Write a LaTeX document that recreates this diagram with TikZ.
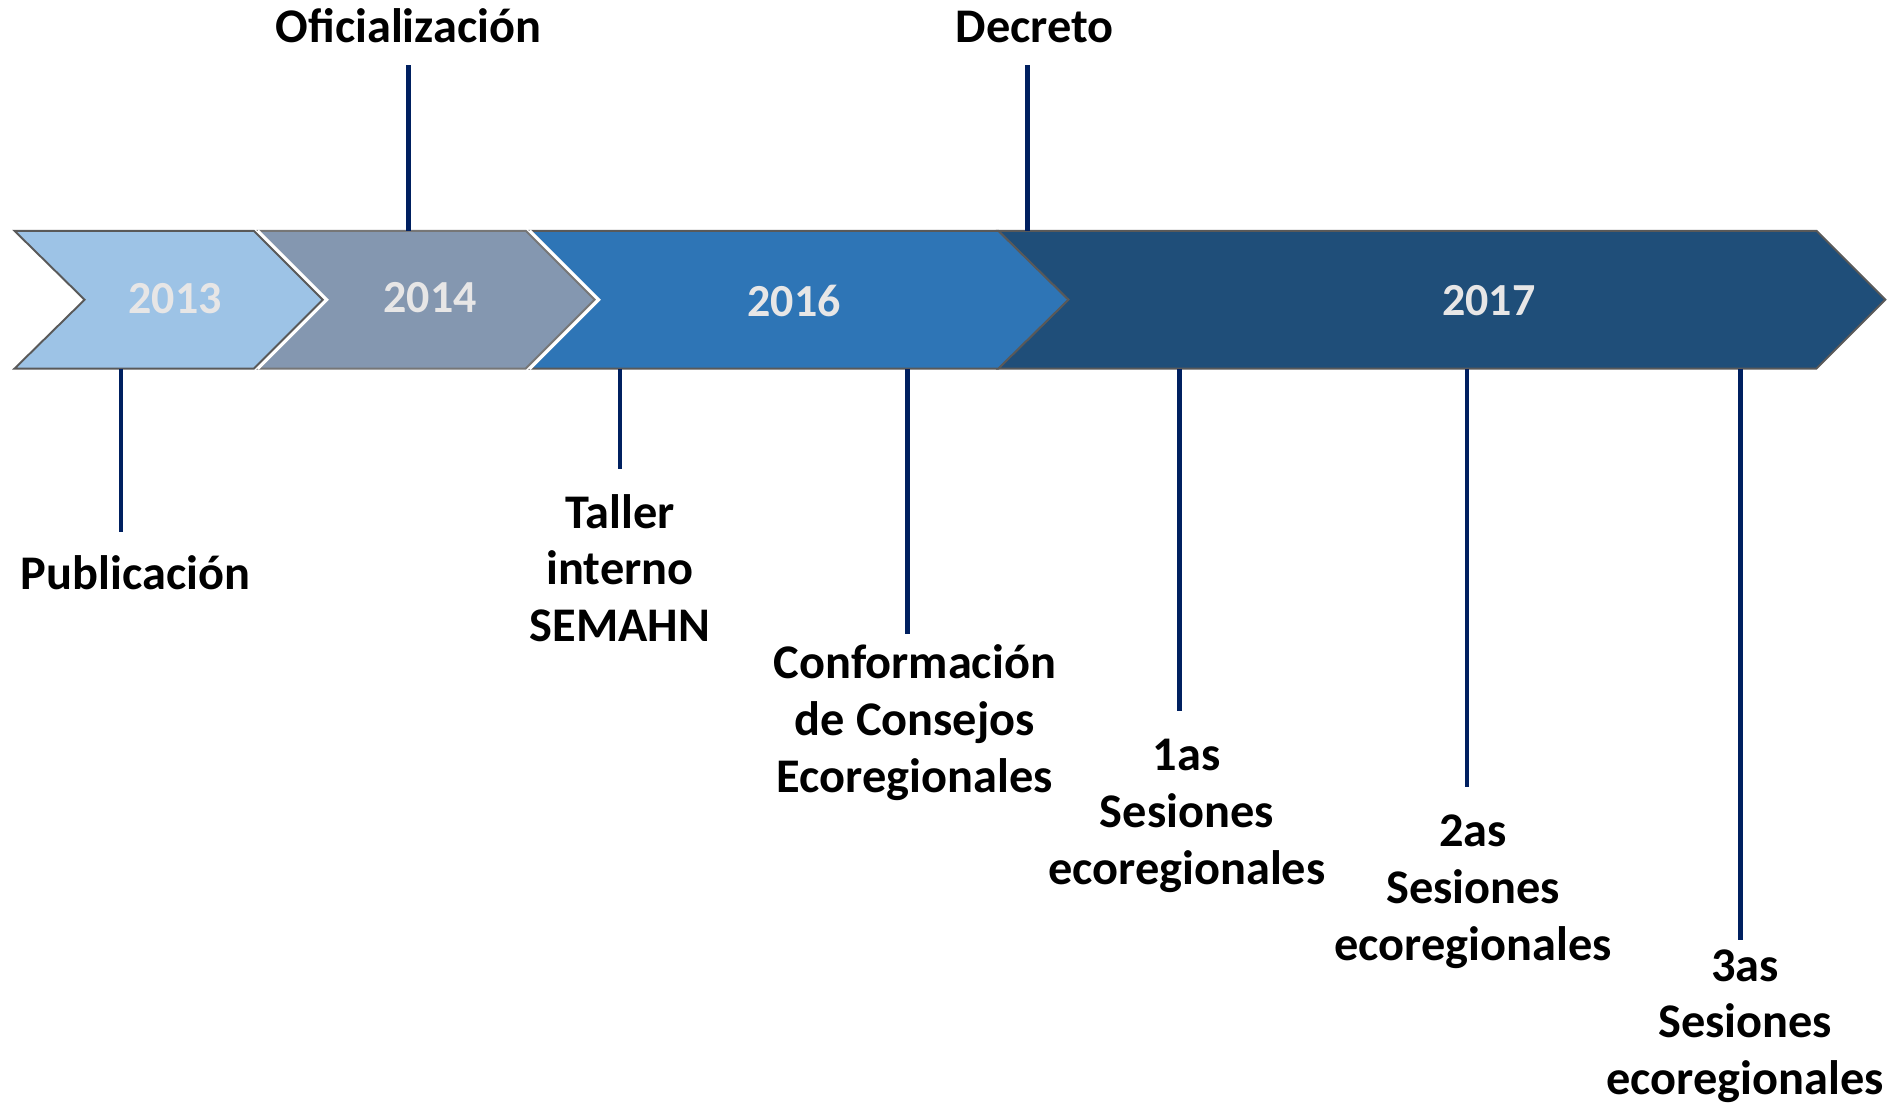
\documentclass[tikz,border=0pt]{standalone}
\usepackage{fontspec}
\setmainfont{Carlito}
\begin{document}
\begin{tikzpicture}[x=1pt,y=-1pt,
  chevbox/.style={line width=1.6pt, line join=miter},
  yearlbl/.style={font=\fontsize{38}{46}\selectfont\bfseries, text=yeartext, inner sep=0pt},
  evlbl/.style={font=\fontsize{40}{47}\selectfont\bfseries, text=black, align=center, inner sep=0pt},
  tick/.style={draw=navy, line width=3.8pt}]
\definecolor{c13}{HTML}{9DC3E6}
\definecolor{c14}{HTML}{8497B0}
\definecolor{c16}{HTML}{2E75B6}
\definecolor{c17}{HTML}{1F4E79}
\definecolor{edge}{HTML}{595959}
\definecolor{edgeb}{HTML}{767676}
\definecolor{yeartext}{HTML}{E7E6E6}
\definecolor{navy}{HTML}{002060}
\useasboundingbox (0,0) rectangle (1568,913);
\fill[white] (0,0) rectangle (1568,913);
% chevrons (band top 191, bottom 305, middle 248)
\draw[chevbox, fill=c17, draw=edge] (826,191) -- (1503,191) -- (1560,248) -- (1503,305) -- (826,305) -- (884,248) -- cycle;
\draw[chevbox, fill=c16, draw=edge] (439,191) -- (826,191) -- (884,248) -- (826,305) -- (439,305) -- (495,248) -- cycle;
\draw[line width=3pt, white] (438,191) -- (495,248) -- (438,305);
\draw[chevbox, fill=c14, draw=edgeb] (214,191) -- (435,191) -- (492,248) -- (435,305) -- (214,305) -- (270,248) -- cycle;
\draw[line width=3pt, white] (213,191) -- (270,248) -- (213,305);
\draw[chevbox, fill=c13, draw=edge] (12,191) -- (210,191) -- (267,248) -- (210,305) -- (12,305) -- (70,248) -- cycle;
% year labels
\node[yearlbl] (y13) at (145,247) {2013};
\node[yearlbl] (y14) at (356,246) {2014};
\node[yearlbl] (y16) at (657,249) {2016};
\node[yearlbl] (y17) at (1232,249) {2017};
% event labels
\node[evlbl, anchor=base] (ofi) at (338,35) {Oficializaci\'on};
\node[evlbl, anchor=base] (dec) at (856,35) {Decreto};
\node[evlbl, anchor=base] (pub) at (112,488) {Publicaci\'on};
\node[evlbl] (tal) at (513,470) {Taller\\interno\\SEMAHN};
\node[evlbl] (con) at (757,598) {Conformaci\'on\\de Consejos\\Ecoregionales};
\node[evlbl] (s1) at (982,675) {1as\\Sesiones\\ecoregionales};
\node[evlbl] (s2) at (1219,738) {2as\\Sesiones\\ecoregionales};
\node[evlbl] (s3) at (1444,849) {3as\\Sesiones\\ecoregionales};
% tick coordinates
\coordinate (ofiA) at (338,54);  \coordinate (ofiB) at (338,191);
\coordinate (decA) at (850,54);  \coordinate (decB) at (850,191);
\coordinate (pubA) at (100,305); \coordinate (pubB) at (100,440);
\coordinate (talA) at (513,305); \coordinate (talB) at (513,388);
\coordinate (conA) at (751,305); \coordinate (conB) at (751,525);
\coordinate (s1A) at (976,305);  \coordinate (s1B) at (976,588);
\coordinate (s2A) at (1214,305); \coordinate (s2B) at (1214,651);
\coordinate (s3A) at (1440,305); \coordinate (s3B) at (1440,778);
\draw[tick] (ofiA) -- (ofiB);
\draw[tick] (decA) -- (decB);
\draw[tick] (pubA) -- (pubB);
\draw[tick] (talA) -- (talB);
\draw[tick] (conA) -- (conB);
\draw[tick] (s1A) -- (s1B);
\draw[tick] (s2A) -- (s2B);
\draw[tick] (s3A) -- (s3B);
\end{tikzpicture}
\end{document}
